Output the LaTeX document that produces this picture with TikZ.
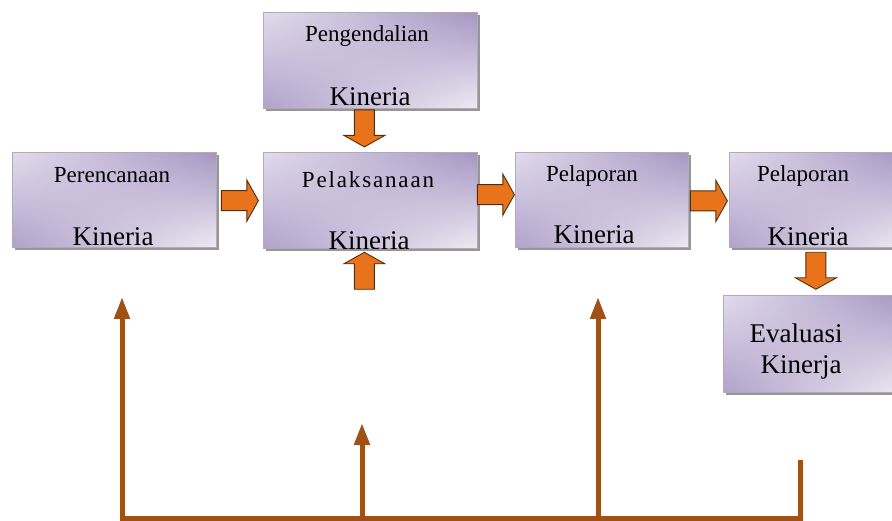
\documentclass[tikz,border=0pt]{standalone}
\usepackage{fontspec}
\setmainfont{Liberation Serif}
\newfontfamily\spacedfont[LetterSpace=8]{Liberation Serif}
\usetikzlibrary{shadows,shadings,arrows.meta,calc}
\definecolor{boxline}{RGB}{175,172,182}
\definecolor{lavUL}{RGB}{226,220,236}
\definecolor{lavUR}{RGB}{165,150,194}
\definecolor{lavLL}{RGB}{176,162,202}
\definecolor{lavLR}{RGB}{238,234,243}
\definecolor{shadowgray}{RGB}{150,150,152}
\definecolor{orangefill}{RGB}{232,115,26}
\definecolor{orangeline}{RGB}{85,45,12}
\definecolor{brownline}{RGB}{160,82,22}
\begin{document}
\begin{tikzpicture}[x=1pt,y=-1pt,
  box/.style={draw=boxline, line width=0.8pt, anchor=north west, inner sep=0pt,
    upper left=lavUL, upper right=lavUR, lower left=lavLL, lower right=lavLR,
    drop shadow={shadow xshift=3pt, shadow yshift=-3pt, fill=shadowgray, opacity=1}},
  small/.style={font=\fontsize{23}{25}\selectfont, inner sep=0pt},
  big/.style={font=\fontsize{27}{29}\selectfont, inner sep=0pt},
  oarrow/.style={draw=orangeline, fill=orangefill, line width=0.9pt, line join=miter},
  harrow/.pic={\draw[oarrow] (-18.5,-10) -- (7,-10) -- (7,-20.5) -- (18.5,0) -- (7,20.5) -- (7,10) -- (-18.5,10) -- cycle;},
  brown/.style={draw=brownline, line width=5pt},
  brownarrow/.style={brown, -{Triangle[width=15pt,length=22pt]}}
]
\useasboundingbox (0,0) rectangle (892,521);

% boxes
\node[box, minimum width=204pt, minimum height=95pt] (perenc) at (12,152) {};
\node[box, minimum width=214pt, minimum height=96pt] (pengend) at (263,12) {};
\node[box, minimum width=214pt, minimum height=96pt] (pelak) at (263,152) {};
\node[box, minimum width=173pt, minimum height=95pt] (pelap1) at (515,152) {};
\node[box, minimum width=175pt, minimum height=95pt] (pelap2) at (729,152) {};
\node[box, minimum width=181pt, minimum height=97pt] (eval) at (723,295) {};

% texts
\node[small] (t1a) at (112,175) {Perencanaan};
\node[big] (t1b) at (113,237) {Kineria};
\begin{scope}
  \clip (pengend.north west) rectangle (pengend.south east);
  \node[small] (t2a) at (367,36) {Pengendalian};
  \node[big] (t2b) at (370,97) {Kineria};
\end{scope}
\begin{scope}
  \clip (pelak.north west) rectangle (pelak.south east);
  \node[small, font=\spacedfont\fontsize{23}{25}\selectfont] (t3a) at (368,180) {Pelaksanaan};
  \node[big] (t3b) at (369,241) {Kineria};
\end{scope}
\node[small] (t4a) at (592,176) {Pelaporan};
\node[big] (t4b) at (594,235) {Kineria};
\node[small] (t5a) at (803,176) {Pelaporan};
\node[big] (t5b) at (808,237) {Kineria};
\node[big] (t6a) at (796,333) {Evaluasi};
\node[big] (t6b) at (801,367) {Kinerja};

% orange block arrows
\pic at ($(perenc.east)!0.5!(pelak.west)+(0,0.5)$) {harrow};
\pic at ($(pelak.east)!0.5!(pelap1.west)+(-0.5,-5.5)$) {harrow};
\pic at ($(pelap1.east)!0.5!(pelap2.west)+(0,1)$) {harrow};
\pic[rotate=-90] at ($(pengend.south)!0.5!(pelak.north)+(-6,-2)$) {harrow};
\pic[rotate=90] at ($(pelak.south)+(-6,22)$) {harrow};
\pic[rotate=-90] at ($(pelap2.south)+(-1,23)$) {harrow};

% brown feedback lines
\coordinate (b1) at (122,518);
\coordinate (b2) at (362,518);
\coordinate (b3) at (598,518);
\coordinate (b4) at (800,518);
\coordinate (e1) at (122,297);
\coordinate (e2) at (362,423);
\coordinate (e3) at (598,297);
\coordinate (s4) at (800,460);
\draw[brownarrow, line join=miter] (s4) -- (b4) -- (b1) -- (e1);
\draw[brownarrow] (b2) -- (e2);
\draw[brownarrow] (b3) -- (e3);
\end{tikzpicture}
\end{document}
